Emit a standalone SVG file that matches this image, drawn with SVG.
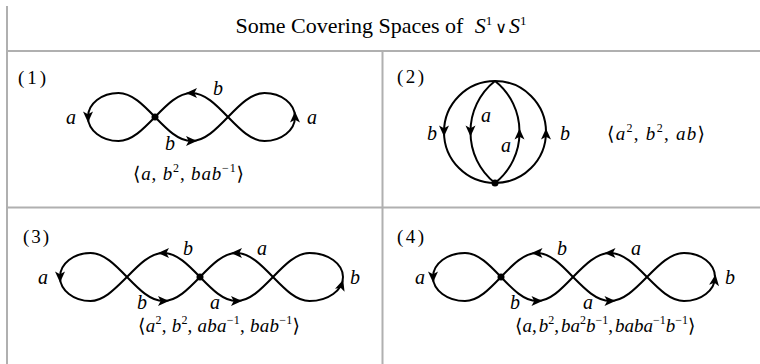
<svg xmlns="http://www.w3.org/2000/svg" xmlns:xlink="http://www.w3.org/1999/xlink" width="760" height="364" viewBox="0 0 760 364">
<style>
.grid{stroke:#b0b0b0;stroke-width:2;fill:none}
.e{fill:none;stroke:#000;stroke-width:2;stroke-linecap:round}
.dot{fill:#000}
text{font-family:"Liberation Serif","DejaVu Serif",serif;fill:#000}
.lab{font-size:20px;font-style:italic;text-anchor:middle}
.cap{font-size:19px}
.i{font-style:italic}
.sup{font-size:12px}
.num{font-size:19px}
.hdr{font-size:22px}
</style>
<defs>
<path id="ah" d="M5.5,0 L-5.5,-5 L-2.8,0 L-5.5,5 Z" fill="#000"/>
</defs>
<rect width="760" height="364" fill="#fff"/>
<g id="table">
<path class="grid" d="M7,6 V364 M7,51 H760 M382.5,51 V364 M7,207.5 H760"/>
</g>
<g id="header">
<text class="hdr" x="381" y="33" text-anchor="middle">Some Covering Spaces of <tspan class="i" dx="6">S</tspan><tspan font-size="13" dy="-8">1</tspan><tspan font-size="16" dy="8" dx="3">∨</tspan><tspan class="i" dx="2">S</tspan><tspan font-size="13" dy="-8">1</tspan></text>
</g>
<g id="panel1">
<g id="edges1">
<path class="e" d="M155,117 C143.1,104.7 131.7,93 118.5,93 A30.5,24 0 0 0 88,117 A30.5,24 0 0 0 118.5,141 C131.7,141 143.1,129.3 155,117"/>
<path class="e" d="M228,117 C216.1,104.7 204.7,93 191.5,93 C178.3,93 166.9,104.7 155,117"/>
<path class="e" d="M155,117 C166.9,129.3 178.3,141 191.5,141 C204.7,141 216.1,129.3 228,117"/>
<path class="e" d="M228,117 C239.9,129.3 251.3,141 264.5,141 A30.5,24 0 0 0 295,117 A30.5,24 0 0 0 264.5,93 C251.3,93 239.9,104.7 228,117"/>
<use xlink:href="#ah" href="#ah" transform="translate(88,117) rotate(90)"/>
<use xlink:href="#ah" href="#ah" transform="translate(191.5,93) rotate(180)"/>
<use xlink:href="#ah" href="#ah" transform="translate(191.5,141)"/>
<use xlink:href="#ah" href="#ah" transform="translate(295,117) rotate(-90)"/>
</g>
<circle class="dot" cx="155" cy="117" r="3.5"/>
<text class="num" x="18" y="84" textLength="28" lengthAdjust="spacing">(1)</text>
<text class="lab" x="71" y="124">a</text>
<text class="lab" x="218" y="95">b</text>
<text class="lab" x="170" y="150">b</text>
<text class="lab" x="312" y="124">a</text>
<text class="cap" x="133" y="180" textLength="111" lengthAdjust="spacing">⟨<tspan class="i">a</tspan>, <tspan class="i">b</tspan><tspan class="sup" dy="-8">2</tspan><tspan dy="8">, </tspan><tspan class="i">bab</tspan><tspan class="sup" dy="-8">−1</tspan><tspan dy="8">⟩</tspan></text>
</g>
<g id="panel2">
<g id="edges2">
<path class="e" d="M495,81 A51,51 0 0 0 444,132 A51,51 0 0 0 495,183"/>
<path class="e" d="M495,183 A51,51 0 0 0 546,132 A51,51 0 0 0 495,81"/>
<path class="e" d="M495,81 A64.5,64.5 0 0 0 470.5,132 A64.5,64.5 0 0 0 495,183"/>
<path class="e" d="M495,183 A64.5,64.5 0 0 0 519.5,132 A64.5,64.5 0 0 0 495,81"/>
<use xlink:href="#ah" href="#ah" transform="translate(444,131) rotate(90)"/>
<use xlink:href="#ah" href="#ah" transform="translate(470.5,131) rotate(90)"/>
<use xlink:href="#ah" href="#ah" transform="translate(519.5,134) rotate(-90)"/>
<use xlink:href="#ah" href="#ah" transform="translate(546,134) rotate(-90)"/>
</g>
<circle class="dot" cx="495" cy="183" r="3.5"/>
<text class="num" x="397" y="83" textLength="27" lengthAdjust="spacing">(2)</text>
<text class="lab" x="432" y="140">b</text>
<text class="lab" x="486" y="122">a</text>
<text class="lab" x="506" y="152">a</text>
<text class="lab" x="565" y="140">b</text>
<text class="cap" x="607" y="140" textLength="98" lengthAdjust="spacing">⟨<tspan class="i">a</tspan><tspan class="sup" dy="-8">2</tspan><tspan dy="8">, </tspan><tspan class="i">b</tspan><tspan class="sup" dy="-8">2</tspan><tspan dy="8">, </tspan><tspan class="i">ab</tspan>⟩</text>
</g>
<g id="panel3">
<g id="edges3">
<path class="e" d="M127,277 C115.1,264.7 103.7,253 90.5,253 A30.5,24 0 0 0 60,277 A30.5,24 0 0 0 90.5,301 C103.7,301 115.1,288.7 127,277"/>
<path class="e" d="M200,277 C188.1,264.7 176.7,253 163.5,253 C150.3,253 138.9,264.7 127,277"/>
<path class="e" d="M127,277 C138.9,289.3 150.3,301 163.5,301 C176.7,301 188.1,289.3 200,277"/>
<path class="e" d="M273,277 C261.1,264.7 249.7,253 236.5,253 C223.3,253 211.9,264.7 200,277"/>
<path class="e" d="M200,277 C211.9,289.3 223.3,301 236.5,301 C249.7,301 261.1,289.3 273,277"/>
<path class="e" d="M273,277 C284.9,289.3 296.3,301 309.5,301 A33.5,24 0 0 0 343,277 A33.5,24 0 0 0 309.5,253 C296.3,253 284.9,264.7 273,277"/>
<use xlink:href="#ah" href="#ah" transform="translate(60,277) rotate(90)"/>
<use xlink:href="#ah" href="#ah" transform="translate(163.5,253) rotate(180)"/>
<use xlink:href="#ah" href="#ah" transform="translate(163.5,301)"/>
<use xlink:href="#ah" href="#ah" transform="translate(236.5,253) rotate(180)"/>
<use xlink:href="#ah" href="#ah" transform="translate(236.5,301)"/>
<use xlink:href="#ah" href="#ah" transform="translate(341.5,285) rotate(-72)"/>
</g>
<circle class="dot" cx="200" cy="277" r="3.5"/>
<text class="num" x="23" y="243" textLength="26" lengthAdjust="spacing">(3)</text>
<text class="lab" x="43" y="284">a</text>
<text class="lab" x="188" y="255">b</text>
<text class="lab" x="262" y="255">a</text>
<text class="lab" x="142" y="309">b</text>
<text class="lab" x="215" y="309">a</text>
<text class="lab" x="355" y="284">b</text>
<text class="cap" x="138" y="332" textLength="162" lengthAdjust="spacing">⟨<tspan class="i">a</tspan><tspan class="sup" dy="-8">2</tspan><tspan dy="8">, </tspan><tspan class="i">b</tspan><tspan class="sup" dy="-8">2</tspan><tspan dy="8">, </tspan><tspan class="i">aba</tspan><tspan class="sup" dy="-8">−1</tspan><tspan dy="8">, </tspan><tspan class="i">bab</tspan><tspan class="sup" dy="-8">−1</tspan><tspan dy="8">⟩</tspan></text>
</g>
<g id="panel4">
<g id="edges4">
<path class="e" d="M501,277 C489.3,264.7 478,253 465,253 A32,24 0 0 0 433,277 A32,24 0 0 0 465,301 C478,301 489.3,289.3 501,277"/>
<path class="e" d="M573,277 C561.3,264.7 550,253 537,253 C524,253 512.7,264.7 501,277"/>
<path class="e" d="M501,277 C512.7,289.3 524,301 537,301 C550,301 561.3,289.3 573,277"/>
<path class="e" d="M647,277 C634.9,264.7 623.4,253 610,253 C596.6,253 585.1,264.7 573,277"/>
<path class="e" d="M573,277 C585.1,289.3 596.6,301 610,301 C623.4,301 634.9,289.3 647,277"/>
<path class="e" d="M647,277 C659.1,289.3 670.6,301 684,301 A31,24 0 0 0 715,277 A31,24 0 0 0 684,253 C670.6,253 659.1,264.7 647,277"/>
<use xlink:href="#ah" href="#ah" transform="translate(433,277) rotate(90)"/>
<use xlink:href="#ah" href="#ah" transform="translate(537,253) rotate(180)"/>
<use xlink:href="#ah" href="#ah" transform="translate(537,301)"/>
<use xlink:href="#ah" href="#ah" transform="translate(610,253) rotate(180)"/>
<use xlink:href="#ah" href="#ah" transform="translate(610,301)"/>
<use xlink:href="#ah" href="#ah" transform="translate(714.8,280) rotate(-82)"/>
</g>
<circle class="dot" cx="501" cy="277" r="3.5"/>
<text class="num" x="397" y="243" textLength="27" lengthAdjust="spacing">(4)</text>
<text class="lab" x="420" y="284">a</text>
<text class="lab" x="562" y="255">b</text>
<text class="lab" x="636" y="255">a</text>
<text class="lab" x="515" y="309">b</text>
<text class="lab" x="588" y="309">a</text>
<text class="lab" x="730" y="284">b</text>
<text class="cap" x="515" y="332" font-size="18">⟨<tspan class="i">a</tspan>,<tspan class="i" dx="2">b</tspan><tspan class="sup" font-size="11" dy="-8">2</tspan><tspan dy="8">,</tspan><tspan class="i" dx="2">ba</tspan><tspan class="sup" font-size="11" dy="-8">2</tspan><tspan class="i" dy="8">b</tspan><tspan class="sup" font-size="11" dy="-8">−1</tspan><tspan dy="8">,</tspan><tspan class="i" dx="2">baba</tspan><tspan class="sup" font-size="11" dy="-8">−1</tspan><tspan class="i" dy="8">b</tspan><tspan class="sup" font-size="11" dy="-8">−1</tspan><tspan dy="8">⟩</tspan></text>
</g>
</svg>
